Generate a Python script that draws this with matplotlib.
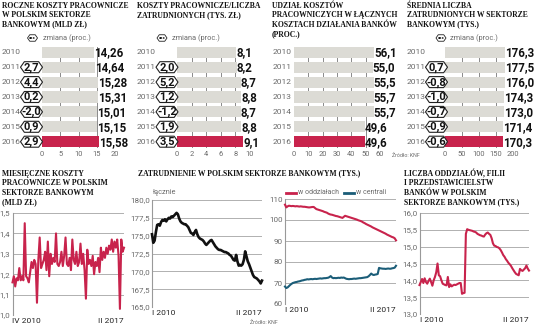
import matplotlib
matplotlib.use('Agg')
import matplotlib.pyplot as plt
from matplotlib.patches import Polygon
from matplotlib.lines import Line2D
from matplotlib import font_manager

W, H = 536, 326

# ---- data: top row (annual) ----
years = ['2010', '2011', '2012', '2013', '2014', '2015', '2016']
costs_year = [14.26, 14.64, 15.28, 15.31, 15.01, 15.15, 15.58]
costs_change = [None, 2.7, 4.4, 0.2, -2.0, 0.9, 2.9]
cost_per_emp = [8.1, 8.2, 8.7, 8.8, 8.7, 8.8, 9.1]
cost_per_emp_change = [None, 2.0, 5.2, 1.2, -1.2, 1.9, 3.5]
cost_share = [56.1, 55.0, 55.5, 55.7, 55.7, 49.6, 49.6]
avg_employment = [176.3, 177.5, 176.0, 174.3, 173.0, 171.4, 170.3]
avg_employment_change = [None, 0.7, -0.8, -1.0, -0.7, -0.9, -0.6]

# ---- data: bottom row (monthly) ----
monthly_costs = [1.16, 1.19, 1.14, 1.18, 1.17, 1.23, 1.17, 1.19, 1.17, 1.45,
                 1.19, 1.18, 1.16, 1.21, 1.26, 1.23, 1.27, 1.25, 1.06, 1.27,
                 1.38, 1.23, 1.25, 1.27, 1.31, 1.22, 1.36, 1.19, 1.30, 1.25,
                 1.28, 1.26, 1.40, 1.25, 1.24, 1.26, 1.31, 1.24, 1.29, 1.38,
                 1.25, 1.24, 1.28, 1.22, 1.37, 1.27, 1.25, 1.31, 1.24, 1.26,
                 1.35, 1.25, 1.30, 1.22, 1.08, 1.32, 1.25, 1.27, 1.24, 1.29,
                 1.20, 1.26, 1.24, 1.28, 1.21, 1.33, 1.27, 1.31, 1.28, 1.33,
                 1.30, 1.34, 1.32, 1.37, 1.31, 1.36, 1.33, 1.37, 1.29, 1.03,
                 1.37, 1.31, 1.33]
employment_total = [175.2, 174.0, 174.3, 175.5, 176.5, 176.6, 176.4, 176.9, 177.2, 177.1,
                    177.3, 177.0, 177.3, 177.5, 177.4, 177.7, 177.6, 177.8, 178.0, 178.2,
                    178.0, 177.4, 177.0, 176.8, 176.7, 176.6, 176.6, 176.4, 176.2, 175.8,
                    175.4, 175.3, 175.1, 175.5, 175.8, 175.2, 174.8, 174.6, 174.5, 174.4,
                    174.2, 173.9, 173.7, 173.9, 174.1, 174.3, 174.4, 174.1, 173.8, 173.5,
                    173.3, 173.1, 173.0, 173.0, 172.9, 172.8, 172.7, 172.7, 172.6, 172.5,
                    172.3, 172.2, 171.9, 171.6, 171.5, 172.3, 171.4, 170.8, 170.9, 170.8,
                    171.0, 171.6, 172.8, 172.1, 171.4, 171.0, 170.5, 170.0, 169.5, 169.2,
                    169.1, 169.0, 168.8, 168.6, 168.3, 168.7]
employment_branches = [107.3, 106.0, 106.5, 106.8, 106.7, 106.6, 106.7, 106.6, 106.5, 106.6,
                       106.5, 106.4, 106.5, 106.4, 106.3, 106.3, 106.2, 106.1, 106.0, 106.0,
                       106.1, 106.2, 106.2, 105.7, 105.2, 105.0, 104.8, 104.6, 104.4, 104.2,
                       103.9, 103.7, 103.5, 103.1, 102.8, 102.6, 102.5, 102.3, 102.1, 101.9,
                       101.8, 101.6, 101.4, 101.2, 101.0, 101.5, 102.0, 101.8, 101.6, 101.4,
                       101.2, 101.0, 100.8, 100.6, 100.4, 100.2, 99.9, 99.7, 99.5, 99.2,
                       98.8, 98.5, 98.1, 97.8, 97.5, 97.2, 96.9, 96.5, 96.2, 95.9,
                       95.6, 95.3, 95.0, 94.7, 94.4, 94.1, 93.8, 93.5, 93.1, 92.8,
                       92.5, 92.2, 91.9, 91.7, 91.3, 90.3]
employment_hq = [68.3, 67.6, 67.9, 68.5, 69.1, 69.6, 70.0, 70.2, 70.4, 70.5,
                 70.7, 70.8, 71.0, 71.2, 71.3, 71.5, 71.6, 71.8, 71.7, 71.8,
                 71.9, 71.8, 71.9, 72.0, 71.9, 72.0, 72.1, 72.2, 72.1, 72.2,
                 72.3, 72.3, 72.4, 72.5, 72.8, 73.3, 72.6, 72.3, 72.4, 72.3,
                 72.4, 72.5, 72.4, 72.6, 72.5, 72.6, 72.3, 72.0, 71.9, 71.8,
                 71.9, 71.9, 72.0, 72.1, 72.0, 72.1, 72.2, 72.3, 72.3, 72.4,
                 72.5, 72.6, 72.7, 72.8, 73.2, 73.8, 74.5, 74.0, 73.8, 74.0,
                 74.1, 74.3, 77.2, 77.0, 76.9, 76.8, 76.8, 76.7, 76.8, 76.9,
                 76.8, 76.8, 77.0, 77.1, 77.3, 78.2]
branches = [13.86, 13.95, 14.04, 13.92, 14.06, 13.95, 13.90, 13.98, 14.05, 13.95,
            13.84, 14.00, 14.10, 14.24, 14.50, 14.15, 14.12, 14.00, 13.90, 13.88,
            13.86, 13.85, 14.10, 13.80, 13.88, 13.82, 13.85, 13.87, 13.86, 13.88,
            13.90, 13.92, 13.92, 13.60, 13.62, 13.63, 15.38, 15.52, 15.50, 15.49,
            15.48, 15.47, 15.45, 15.44, 15.42, 15.38, 15.36, 15.34, 15.33, 15.31,
            15.30, 15.36, 15.40, 15.42, 15.38, 15.35, 15.25, 15.10, 15.03, 15.02,
            14.99, 14.98, 14.95, 14.90, 14.83, 14.75, 14.70, 14.63, 14.58, 14.52,
            14.48, 14.43, 14.36, 14.30, 14.24, 14.19, 14.17, 14.15, 14.34, 14.30,
            14.28, 14.32, 14.36, 14.44, 14.35, 14.29]

RED = '#c8234c'
TEAL = '#1b5d78'
BAR_GRAY = '#dcdbd5'
GRID = '#b0b0b0'
LIGHT = '#6a6a6a'

names = {f.name for f in font_manager.fontManager.ttflist}
NARROW = 'Liberation Sans Narrow' if 'Liberation Sans Narrow' in names else 'Roboto'
SERIF = 'Liberation Serif'

fig = plt.figure(figsize=(W / 100, H / 100), dpi=100)


def fx(x):
    return x / W


def fy(y):
    return 1 - y / H


def ftext(x, y, s, **kw):
    kw.setdefault('family', NARROW)
    return fig.text(fx(x), fy(y), s, **kw)


def axes_px(x0, y0, x1, y1):
    return fig.add_axes([fx(x0), fy(y1), (x1 - x0) / W, (y1 - y0) / H])


def title(x, y0, lines, step=9.3):
    for i, line in enumerate(lines):
        ftext(x, y0 + i * step, line, family=SERIF, fontweight='bold',
              fontsize=5.5, color='#111', ha='left', va='center')


def badge(xc, yc, w, h, s, fs, lw=0.8):
    x0, x1 = xc - w / 2, xc + w / 2
    tip = h * 0.35
    pts = [(x0, yc), (x0 + tip, yc - h / 2), (x1 - tip, yc - h / 2), (x1, yc),
           (x1 - tip, yc + h / 2), (x0 + tip, yc + h / 2)]
    poly = Polygon([(fx(a), fy(b)) for a, b in pts], closed=True,
                   transform=fig.transFigure, fc='white', ec='#222', lw=lw,
                   joinstyle='round', zorder=5)
    fig.add_artist(poly)
    ftext(xc, yc + 0.3, s, ha='center', va='center', fontsize=fs,
          fontweight='bold', color='#111', zorder=6)


ROW0, ROWSTEP = 52.3, 14.9


def bar_panel(x0, x1, xmax, ticks, values, decimals, changes, year_x, badge_xc):
    top = ROW0 - ROWSTEP / 2
    bot = ROW0 + 6.5 * ROWSTEP
    ax = axes_px(x0, top, x1, bot)
    ax.set_xlim(0, xmax)
    ax.set_ylim(6.5, -0.5)
    ax.axis('off')
    for t in ticks[1:]:
        ax.plot([t, t], [-0.38, 6.38], color='#8a8a8a', lw=0.7, zorder=1)
    colors = [BAR_GRAY] * (len(values) - 1) + [RED]
    ax.barh(range(len(values)), values, height=0.74, color=colors, zorder=2)
    for i, v in enumerate(values):
        lab = f'{v:.{decimals}f}'.replace('.', ',')
        ax.text(v, i + 0.04, lab, ha='left', va='center', fontsize=8.3,
                fontweight='bold', family=NARROW, color='#111', zorder=4)
        ftext(year_x, ROW0 + i * ROWSTEP, years[i], ha='left', va='center',
              fontsize=6, color=LIGHT)
    for t in ticks:
        ax.text(t, 6.84, str(t), ha='center', va='center', fontsize=5.4,
                family=NARROW, color=LIGHT)
    if changes is not None:
        for i, c in enumerate(changes):
            if c is None:
                continue
            badge(badge_xc, ROW0 + i * ROWSTEP, 22, 11,
                  f'{c:.1f}'.replace('.', ','), 8)
    return ax


def legend_badge(xc, text_x):
    badge(xc, 38, 10, 6.5, 'xxx', 3.2, lw=0.6)
    ftext(text_x, 38, 'zmiana (proc.)', ha='left', va='center',
          fontsize=5.3, color=LIGHT)


# ---- top row ----
title(2, 6, ['ROCZNE KOSZTY PRACOWNICZE', 'W POLSKIM SEKTORZE', 'BANKOWYM (MLD ZŁ)'])
legend_badge(32.5, 43)
bar_panel(42, 115, 20, [0, 5, 10, 15, 20], costs_year, 2, costs_change, 2, 31.5)

title(137, 6, ['KOSZTY PRACOWNICZE/LICZBA', 'ZATRUDNIONYCH (TYS. ZŁ)'])
legend_badge(162, 172)
bar_panel(177, 250, 10, [0, 2, 4, 6, 8, 10], cost_per_emp, 1,
          cost_per_emp_change, 137, 167)

title(272, 6, ['UDZIAŁ KOSZTÓW', 'PRACOWNICZYCH W ŁĄCZNYCH',
               'KOSZTACH DZIAŁANIA BANKÓW', '(PROC.)'])
bar_panel(294, 380, 60, [0, 10, 20, 30, 40, 50, 60], cost_share, 1, None, 273, 0)

title(407, 6, ['ŚREDNIA LICZBA', 'ZATRUDNIONYCH W SEKTORZE', 'BANKOWYM (TYS.)'])
legend_badge(441, 450)
bar_panel(445, 513, 200, [0, 50, 100, 150, 200], avg_employment, 1,
          avg_employment_change, 407, 436.5)
ftext(392, 155, 'Źródło: KNF', ha='left', va='center', fontsize=3.8, color=LIGHT)


# ---- bottom row ----
def line_panel(x0, ytop, x1, ybot, ylo, yhi, yticks, ylabels, series, xlabels):
    ax = axes_px(x0, ytop, x1, ybot)
    n = len(series[0][0])
    ax.set_xlim(0, n - 1)
    ax.set_ylim(ylo, yhi)
    ax.set_facecolor('none')
    for vals, color, lw in series:
        ax.plot(range(n), vals, color=color, lw=lw, solid_joinstyle='round',
                clip_on=False, zorder=3)
    ax.set_yticks(yticks)
    ax.set_yticklabels(ylabels, fontsize=5.8, color=LIGHT, family=NARROW)
    ax.tick_params(axis='y', length=0, pad=1.5)
    ax.grid(axis='y', color=GRID, lw=0.7)
    ax.set_axisbelow(True)
    for s in ['top', 'right', 'bottom']:
        ax.spines[s].set_visible(False)
    ax.spines['left'].set_color('#999')
    ax.spines['left'].set_linewidth(0.8)
    ax.set_xticks([0, n - 1])
    ax.set_xticklabels(xlabels, fontsize=6, color='#222', family=NARROW)
    ax.tick_params(axis='x', length=0, pad=2)
    labs = ax.get_xticklabels()
    labs[0].set_ha('left')
    labs[1].set_ha('right')
    return ax


title(2, 174, ['MIESIĘCZNE KOSZTY', 'PRACOWNICZE W POLSKIM', 'SEKTORZE BANKOWYM', '(MLD ZŁ)'])
line_panel(12.5, 213, 124, 315, 1.0, 1.5, [1.0, 1.1, 1.2, 1.3, 1.4, 1.5],
           ['1,0', '1,1', '1,2', '1,3', '1,4', '1,5'],
           [(monthly_costs, RED, 1.5)], ['IV 2010', 'II 2017'])

title(138, 173, ['ZATRUDNIENIE W POLSKIM SEKTORZE BANKOWYM (TYS.)'])
ftext(153, 193, 'łącznie', ha='left', va='center', fontsize=5.3, color=LIGHT)
line_panel(152, 200, 262, 307, 165, 180, [165, 167.5, 170, 172.5, 175, 177.5, 180],
           ['165,0', '167,5', '170,0', '172,5', '175,0', '177,5', '180,0'],
           [(employment_total, '#111', 1.9)], ['I 2010', 'II 2017'])

# legend of the branches / headquarters panel
fig.add_artist(Line2D([fx(286), fx(296)], [fy(193), fy(193)], color=RED, lw=2))
t1 = ftext(298, 193, 'w oddziałach', ha='left', va='center', fontsize=5, color=LIGHT)
fig.canvas.draw()
x_end = t1.get_window_extent().x1
fig.add_artist(Line2D([fx(x_end + 5), fx(x_end + 15)], [fy(193), fy(193)], color=TEAL, lw=2))
ftext(x_end + 17, 193, 'w centrali', ha='left', va='center', fontsize=5, color=LIGHT)
line_panel(285, 199, 396, 304, 60, 110, [60, 70, 80, 90, 100, 110],
           ['60', '70', '80', '90', '100', '110'],
           [(employment_branches, RED, 1.5), (employment_hq, TEAL, 1.5)],
           ['I 2010', 'II 2017'])
ftext(250, 322, 'Źródło: KNF', ha='left', va='center', fontsize=3.8, color=LIGHT)

title(404, 174, ['LICZBA ODDZIAŁÓW, FILII', 'I PRZEDSTAWICIELSTW',
                 'BANKÓW W POLSKIM', 'SEKTORZE BANKOWYM (TYS.)'])
line_panel(419.5, 213, 529, 314, 13.0, 16.0, [13.0, 13.5, 14.0, 14.5, 15.0, 15.5, 16.0],
           ['13,0', '13,5', '14,0', '14,5', '15,0', '15,5', '16,0'],
           [(branches, RED, 1.5)], ['I 2010', 'II 2017'])

fig.savefig('out.png', dpi=100)
